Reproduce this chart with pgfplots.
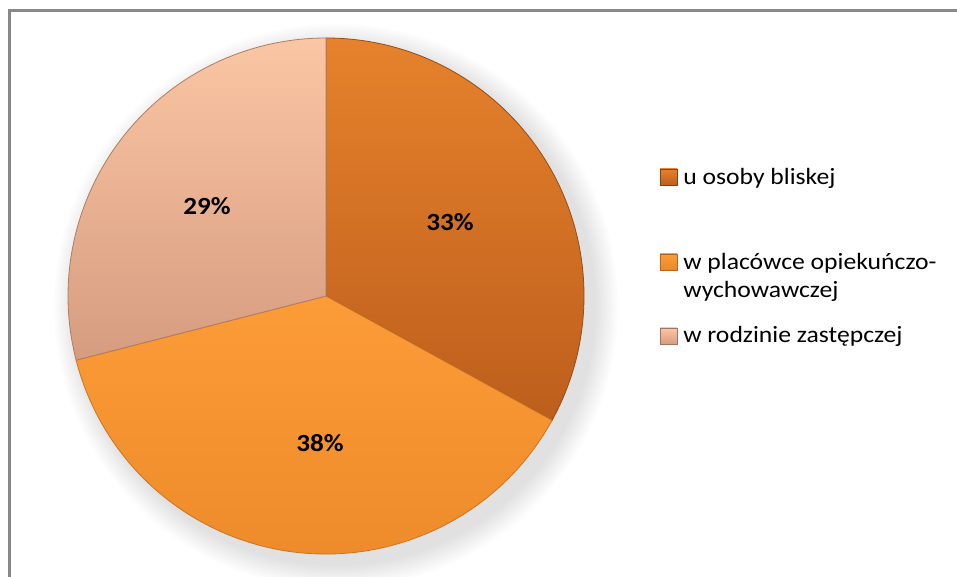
\documentclass[border=0pt]{standalone}
\usepackage{pgfplots}
\usepackage{pgfplotstable}
\pgfplotsset{compat=1.18}
\usepackage{fontspec}
\setmainfont{Carlito}
\newfontfamily\widefont[FakeStretch=1.1]{Carlito}

% pie shares
\pgfplotstableread[col sep=comma]{
label,value
u osoby bliskej,33
w placówce opiekuńczo-wychowawczej,38
w rodzinie zastępczej,29
}\piedata

\definecolor{sAtop}{HTML}{E6822C}
\definecolor{sAbot}{HTML}{BD5E1C}
\definecolor{sBtop}{HTML}{FC9C38}
\definecolor{sBbot}{HTML}{EC8828}
\definecolor{sCtop}{HTML}{FBC6A4}
\definecolor{sCbot}{HTML}{D69C80}
\definecolor{frame}{HTML}{888888}

\begin{document}
\begin{tikzpicture}[x=0.75pt,y=0.75pt]
\useasboundingbox (0,0) rectangle (957,577);

\pgfplotstablegetelem{0}{value}\of\piedata \let\va\pgfplotsretval
\pgfplotstablegetelem{1}{value}\of\piedata \let\vb\pgfplotsretval
\pgfplotstablegetelem{2}{value}\of\piedata \let\vc\pgfplotsretval
\pgfmathsetmacro\aA{90}
\pgfmathsetmacro\aB{\aA-3.6*\va}
\pgfmathsetmacro\aC{\aB-3.6*\vb}
\pgfmathsetmacro\aD{\aC-3.6*\vc}
\def\R{193.5pt}

\begin{axis}[
  at={(0,0)}, anchor=south west,
  width=717.75pt, height=432.75pt, scale only axis,
  xmin=0, xmax=957, ymin=0, ymax=577,
  y dir=reverse,
  hide axis, clip=false,
]
% soft shadow, falling to the lower right
\pgfplotsinvokeforeach{1,...,10}{
  \fill[black, opacity=0.011] (axis cs:336,306) circle[radius={193.5pt+#1*1.8pt}];
}
\fill[white] (axis cs:326,296) circle[radius=\R];

\shade[top color=sAtop, bottom color=sAbot, draw=sAbot!80!black, line width=0.6pt]
  (axis cs:326,296) -- ++(\aA:\R) arc[start angle=\aA, end angle=\aB, radius=\R] -- cycle;
\shade[top color=sBtop, bottom color=sBbot, draw=sBbot!85!black, line width=0.6pt]
  (axis cs:326,296) -- ++(\aB:\R) arc[start angle=\aB, end angle=\aC, radius=\R] -- cycle;
\shade[top color=sCtop, bottom color=sCbot, draw=sCbot!80!black, line width=0.6pt]
  (axis cs:326,296) -- ++(\aC:\R) arc[start angle=\aC, end angle=\aD, radius=\R] -- cycle;

% percentage labels
\begin{scope}[every node/.style={font=\widefont\fontsize{18.5}{20}\selectfont\bfseries}]
\node at (axis cs:450,222) {\va\%};
\node at (axis cs:320,443) {\vb\%};
\node at (axis cs:207,206) {\vc\%};
\end{scope}

% legend
\shade[top color=sAtop, bottom color=sAbot, draw=sAbot!70!black, line width=0.4pt]
  (axis cs:660,169) rectangle (axis cs:677,185);
\shade[top color=sBtop, bottom color=sBbot, draw=sBbot!75!black, line width=0.4pt]
  (axis cs:660,254) rectangle (axis cs:677,270);
\shade[top color=sCtop, bottom color=sCbot, draw=sCbot!75!black, line width=0.4pt]
  (axis cs:660,328) rectangle (axis cs:677,344);
\begin{scope}[every node/.style={anchor=base west, inner sep=0pt,
    font=\widefont\fontsize{17.5}{20}\selectfont}]
\node at (axis cs:683,185) {u osoby bliskej};
\node at (axis cs:683,270) {w placówce opiekuńczo-};
\node at (axis cs:683,298) {wychowawczej};
\node at (axis cs:683,343) {w rodzinie zastępczej};
\end{scope}
\end{axis}

% chart frame (right and bottom edges fall outside the picture)
\draw[frame, line width=2.25pt] (9.5,0) -- (9.5,566.5) -- (957,566.5);
\end{tikzpicture}
\end{document}
